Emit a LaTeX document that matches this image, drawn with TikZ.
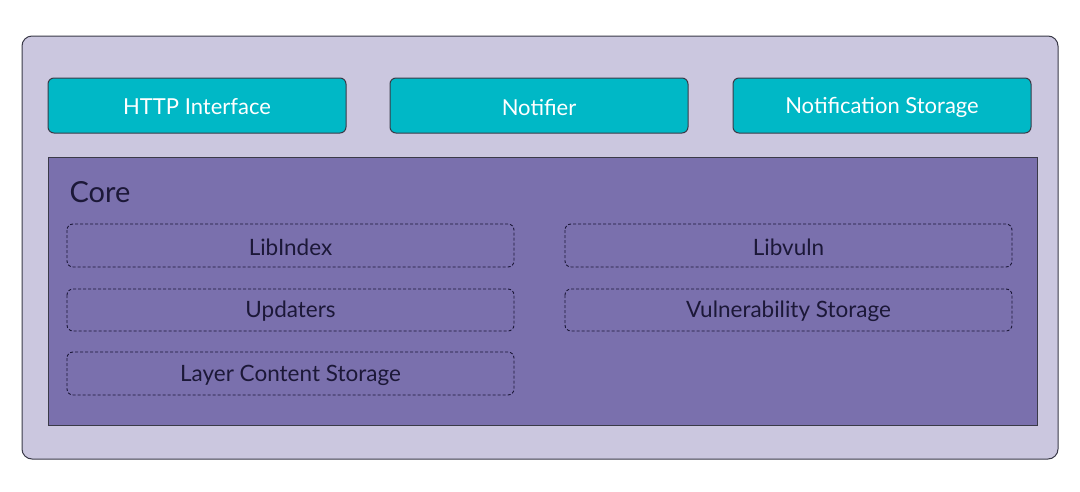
\documentclass[tikz,border=0pt]{standalone}
\usepackage{fontspec}
\setmainfont{Lato}
\definecolor{outerfill}{HTML}{CBC7DF}
\definecolor{edge}{HTML}{3A3A48}
\definecolor{tealfill}{HTML}{00B8C6}
\definecolor{corefill}{HTML}{7A70AD}
\definecolor{inktext}{HTML}{1C1838}
\begin{document}
\begin{tikzpicture}[x=1pt,y=-1pt,
  outerbox/.style={draw=edge,line width=1pt,fill=outerfill,rounded corners=10pt},
  topbox/.style={draw=edge,line width=1pt,fill=tealfill,rounded corners=6pt,text=white,font=\fontsize{22}{26}\selectfont},
  corebox/.style={draw=edge,line width=1pt,fill=corefill},
  dashbox/.style={draw=inktext,dashed,dash pattern=on 3pt off 2pt,line width=0.9pt,rounded corners=6pt,text=inktext,font=\fontsize{22.5}{26}\selectfont},
  lbl/.style={midway,yshift=-1.5pt}]
\useasboundingbox (0,0) rectangle (1080,491);
\fill[white] (0,0) rectangle (1080,491);
\draw[outerbox] (22,36) rectangle (1058,459);
\draw[topbox] (48,78) rectangle (346,133) node[lbl] (http) {HTTP Interface};
\draw[topbox] (390,78) rectangle (688,133) node[lbl] (notif) {Notifier};
\draw[topbox] (733,78) rectangle (1031,133) node[lbl] (nstore) {Notification Storage};
\draw[corebox] (48,157) rectangle (1037,425);
\node[anchor=west,text=inktext,font=\fontsize{29}{34}\selectfont] (core) at (66,192) {Core};
\draw[dashbox] (67,224) rectangle (514,267) node[lbl] (libindex) {LibIndex};
\draw[dashbox] (565,224) rectangle (1012,267) node[lbl] (libvuln) {Libvuln};
\draw[dashbox] (67,289) rectangle (514,331) node[lbl] (upd) {Updaters};
\draw[dashbox] (565,289) rectangle (1012,331) node[lbl] (vstore) {Vulnerability Storage};
\draw[dashbox] (67,352) rectangle (514,395) node[lbl] (lstore) {Layer Content Storage};
\end{tikzpicture}
\end{document}
